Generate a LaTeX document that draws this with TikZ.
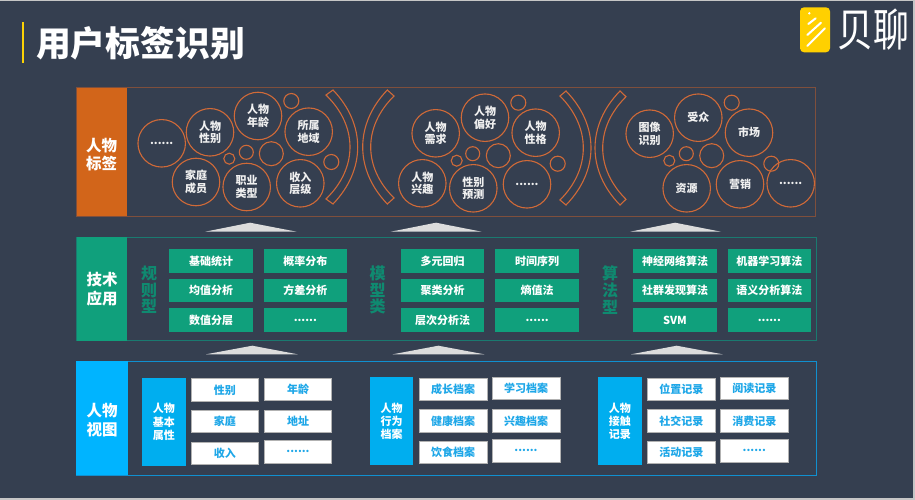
\documentclass[tikz,border=0pt]{standalone}
\usepackage{fontspec}
\setmainfont{Noto Sans CJK SC}
\definecolor{bgc}{HTML}{353F50}
\definecolor{orangeh}{HTML}{D2651A}
\definecolor{orangec}{HTML}{D06A38}
\definecolor{orangef}{HTML}{7F4F3C}
\definecolor{greenh}{HTML}{10A07C}
\definecolor{greenf}{HTML}{1A7A70}
\definecolor{greent}{HTML}{0F8A70}
\definecolor{blueh}{HTML}{00B4FF}
\definecolor{bluef}{HTML}{1090D0}
\definecolor{blues}{HTML}{00AEEF}
\definecolor{bluet}{HTML}{1EA7E8}
\definecolor{trig}{HTML}{DCDCDC}
\definecolor{logoy}{HTML}{FFD000}
\tikzset{
  rectn/.style={rectangle,inner sep=0pt,outer sep=0pt,align=center},
  head/.style={rectn,text=white,font=\fontsize{15.5}{19}\selectfont\bfseries},
  framebox/.style={rectn,line width=1pt},
  gbox/.style={rectn,fill=greenh,text=white,font=\fontsize{11}{13}\selectfont\bfseries},
  wbox/.style={rectn,fill=white,draw=gray!60,line width=0.6pt,text=bluet,font=\fontsize{11}{13}\selectfont\bfseries},
  sbox/.style={rectn,fill=blues,text=white,font=\fontsize{11}{13.4}\selectfont\bfseries},
  big/.style={circle,draw=orangec,line width=1.1pt,inner sep=0pt,outer sep=0pt,minimum size=47.5pt,align=center,text=white!94!black,font=\fontsize{11}{12.6}\selectfont\bfseries},
  smallc/.style={circle,draw=orangec,line width=1.1pt,inner sep=0pt,outer sep=0pt,minimum size=#1},
  vlabel/.style={rectn,text=greent,font=\fontsize{16}{16.7}\selectfont\bfseries},
  tri/.style={fill=trig,draw=none},
  brack/.style={draw=orangec,line width=1.1pt},
}
\newcommand{\bx}[7]{\node[#2,minimum width={(#5-#3)*1pt},minimum height={(#6-#4)*1pt}] (#1) at ({(#3+#5)/2},{(#4+#6)/2}) {#7};}
% outer tip x,y ; inner tip x,y ; outer mid x ; inner mid x ; y mid
\newcommand{\brk}[7]{\draw[brack] (#1,#2)
  .. controls ({(4*#5-#1)/3},{#2+0.3*(#7-#2)*2}) and ({(4*#5-#1)/3},{2*#7-#2-0.3*(#7-#2)*2}) .. (#1,{2*#7-#2})
  -- (#3,{2*#7-#4})
  .. controls ({(4*#6-#3)/3},{2*#7-#4-0.3*(#7-#4)*2}) and ({(4*#6-#3)/3},{#4+0.3*(#7-#4)*2}) .. (#3,#4)
  -- cycle;}
\begin{document}
\begin{tikzpicture}[x=1pt,y=-1pt]
\useasboundingbox (0,0) rectangle (915,500);
\fill[bgc] (0,0) rectangle (915,500);
\fill[gray!45] (0,0) rectangle (915,1.5);
\fill[gray!45] (0,498) rectangle (915,500);
\fill[gray!45] (913,0) rectangle (915,500);
% title
\fill[yellow!70!orange] (21.7,21.7) rectangle (24.3,62.7);
\node[rectn,anchor=west,text=white,font=\fontsize{34.8}{36}\selectfont\bfseries] (title) at (36,43) {用户标签识别};
% logo
\fill[logoy,rounded corners=4pt] (800,7.3) rectangle (830,52.3);
\begin{scope}[white,line width=2pt,line cap=round]
\fill (809.3,13.3) circle (1.3);
\draw (808.3,24) -- (815.7,18.3);
\draw (807.3,35) -- (821,22.7);
\draw (807.3,46) -- (825,28.3);
\end{scope}
\node[rectn,anchor=west,text=white,yscale=1.25,font=\fontsize{36}{38}\selectfont] (logotext) at (837,30) {贝聊};
% top layer
\bx{fr1}{framebox,draw=orangef}{76.5}{88}{815.5}{216}{}
\bx{h1}{rectn,fill=orangeh}{76.5}{88}{127}{216}{}
\node[head,font=\fontsize{15.5}{18}\selectfont\bfseries] (h1t) at (101.7,154.5) {人物\\标签};
\node[big] (a1) at (161.7,143.3) {......};
\node[big] (a2) at (210,132.3) {人物\\性别};
\node[big] (a3) at (258,116) {人物\\年龄};
\node[big] (a4) at (308.7,131.7) {所属\\地域};
\node[big] (a5) at (196,182) {家庭\\成员};
\node[big] (a6) at (246.7,187) {职业\\类型};
\node[big] (a7) at (300.3,183.3) {收入\\层级};
\node[smallc=15pt] (as1) at (291.3,101) {};
\node[smallc=11pt] (as2) at (229.3,158.7) {};
\node[smallc=14pt] (as3) at (246.3,152.3) {};
\node[smallc=24pt] (as4) at (271.3,153.7) {};
\node[smallc=15pt] (as5) at (331.3,162) {};
\brk{333}{90}{326}{95}{357.7}{350}{147}
\brk{387.3}{90}{394}{96}{362.7}{370.7}{147}
\node[big] (b1) at (435.7,133.3) {人物\\需求};
\node[big] (b2) at (422.3,183.3) {人物\\兴趣};
\node[big] (b3) at (485,117.7) {人物\\偏好};
\node[big] (b4) at (535.7,132.7) {人物\\性格};
\node[big] (b5) at (473.3,188.3) {性别\\预测};
\node[big] (b6) at (527,184.3) {......};
\node[smallc=15pt] (bs1) at (518.3,102.7) {};
\node[smallc=14pt] (bs2) at (472.7,153.7) {};
\node[smallc=24pt] (bs3) at (498.3,155.7) {};
\node[smallc=11pt] (bs4) at (456.7,160.7) {};
\node[smallc=15pt] (bs5) at (557.7,163.7) {};
\brk{566}{91}{560}{96}{591}{583.3}{148}
\brk{620}{91}{626}{96.7}{595}{602.7}{148}
\node[big] (c1) at (649.7,133.7) {图像\\识别};
\node[big] (c2) at (698.3,117.7) {受众};
\node[big] (c3) at (749,132.7) {市场};
\node[big] (c4) at (686.7,188.3) {资源};
\node[big] (c5) at (740,184.3) {营销};
\node[big] (c6) at (790.7,183.3) {......};
\node[smallc=15pt] (cs1) at (731.7,102.7) {};
\node[smallc=11pt] (cs2) at (669.3,160.7) {};
\node[smallc=14pt] (cs3) at (686.3,153.7) {};
\node[smallc=24pt] (cs4) at (711.7,155.7) {};
\node[smallc=15pt] (cs5) at (771.3,163.7) {};
% triangles
\fill[tri] (205,231.7) -- (250,222.7) -- (296.7,231.7) -- cycle;
\fill[tri] (390.7,231.7) -- (436,222.7) -- (481.7,231.7) -- cycle;
\fill[tri] (630,231.7) -- (675,222.7) -- (721,231.7) -- cycle;
\fill[tri] (206,354.3) -- (252.3,345.7) -- (297.7,354.3) -- cycle;
\fill[tri] (392.7,354.3) -- (438.3,345.7) -- (484.3,354.3) -- cycle;
\fill[tri] (631,354.3) -- (676.7,345.7) -- (722.7,354.3) -- cycle;
% middle layer
\bx{fr2}{framebox,draw=greenf}{76.7}{237}{816}{340.7}{}
\bx{h2}{head,fill=greenh}{76.7}{237}{127.3}{340.7}{技术\\应用}
\node[vlabel] (v1) at (149,290) {规\\则\\型};
\node[vlabel] (v2) at (377.7,290) {模\\型\\类};
\node[vlabel] (v3) at (610,290) {算\\法\\型};
\bx{g1}{gbox}{169.3}{249.3}{252.7}{272.7}{基础统计}
\bx{g2}{gbox}{263.7}{249.3}{347}{272.7}{概率分布}
\bx{g3}{gbox}{169.3}{278.7}{252.7}{302}{均值分析}
\bx{g4}{gbox}{263.7}{278.7}{347}{302}{方差分析}
\bx{g5}{gbox}{169.3}{308.3}{252.7}{331.7}{数值分层}
\bx{g6}{gbox}{263.7}{308.3}{347}{331.7}{......}
\bx{g7}{gbox}{400.7}{249.3}{484.3}{272.7}{多元回归}
\bx{g8}{gbox}{495.3}{249.3}{579}{272.7}{时间序列}
\bx{g9}{gbox}{400.7}{278.7}{484.3}{302}{聚类分析}
\bx{g10}{gbox}{495.3}{278.7}{579}{302}{熵值法}
\bx{g11}{gbox}{400.7}{308.3}{484.3}{331.7}{层次分析法}
\bx{g12}{gbox}{495.3}{308.3}{579}{331.7}{......}
\bx{g13}{gbox}{633.3}{249.3}{716.7}{272.7}{神经网络算法}
\bx{g14}{gbox}{727.7}{249.3}{811}{272.7}{机器学习算法}
\bx{g15}{gbox}{633.3}{278.7}{716.7}{302}{社群发现算法}
\bx{g16}{gbox}{727.7}{278.7}{811}{302}{语义分析算法}
\bx{g17}{gbox}{633.3}{308.3}{716.7}{331.7}{SVM}
\bx{g18}{gbox}{727.7}{308.3}{811}{331.7}{......}
% bottom layer
\bx{fr3}{framebox,draw=bluef}{76}{361}{816}{475}{}
\bx{h3}{rectn,fill=blueh}{76}{361}{128}{475}{}
\node[head] (h3t) at (102,420) {人物\\视图};
\bx{s1}{sbox}{141.7}{378.3}{186}{466}{人物\\基本\\属性}
\bx{s2}{sbox}{370}{377.3}{413.3}{465.3}{人物\\行为\\档案}
\bx{s3}{sbox}{597.7}{377.3}{642}{465.3}{人物\\接触\\记录}
\bx{w1}{wbox}{191.3}{378.7}{258.3}{401}{性别}
\bx{w2}{wbox}{264.3}{378}{331.7}{400.3}{年龄}
\bx{w3}{wbox}{191.3}{410.3}{258.3}{432.7}{家庭}
\bx{w4}{wbox}{264.3}{410.3}{331.7}{432.7}{地址}
\bx{w5}{wbox}{191.3}{442}{258.3}{464.3}{收入}
\bx{w6}{wbox}{264.3}{440}{331.7}{463.3}{......}
\bx{w7}{wbox}{419.3}{378}{487}{400.3}{成长档案}
\bx{w8}{wbox}{492}{377.3}{560}{399.7}{学习档案}
\bx{w9}{wbox}{419.3}{409.7}{487}{432}{健康档案}
\bx{w10}{wbox}{492}{409.7}{560}{432}{兴趣档案}
\bx{w11}{wbox}{419.3}{441.3}{487}{463.7}{饮食档案}
\bx{w12}{wbox}{492}{439.3}{560}{462.3}{......}
\bx{w13}{wbox}{647.3}{378}{715.3}{400.3}{位置记录}
\bx{w14}{wbox}{720.3}{377.3}{788.3}{399.7}{阅读记录}
\bx{w15}{wbox}{647.3}{409.7}{715.3}{432}{社交记录}
\bx{w16}{wbox}{720.3}{409.7}{788.3}{432}{消费记录}
\bx{w17}{wbox}{647.3}{441.3}{715.3}{463.7}{活动记录}
\bx{w18}{wbox}{720.3}{439.3}{788.3}{462.3}{......}
\end{tikzpicture}
\end{document}
